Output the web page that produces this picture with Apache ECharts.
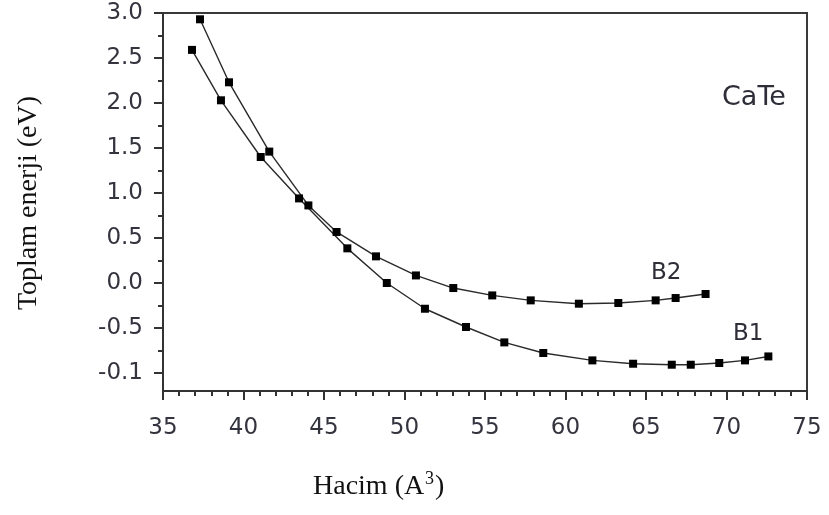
<!DOCTYPE html>
<html>
<head>
<meta charset="utf-8">
<script src="https://cdn.jsdelivr.net/npm/echarts@6/dist/echarts.min.js"></script>
<style>
html,body{margin:0;padding:0;background:#fff;}
#chart{width:829px;height:515px;}
</style>
</head>
<body>
<div id="chart"></div>
<script>
// Data
var b1X = [36.8, 38.6, 41.07, 43.45, 46.45, 48.9, 51.27, 53.82, 56.2, 58.62, 61.67, 64.2, 66.6, 67.78, 69.55, 71.15, 72.6];
var b1Y = [2.59, 2.03, 1.40, 0.94, 0.385, 0.0, -0.286, -0.489, -0.66, -0.778, -0.86, -0.897, -0.908, -0.908, -0.889, -0.86, -0.816];
var b2X = [37.3, 39.1, 41.6, 44.03, 45.78, 48.23, 50.71, 53.03, 55.45, 57.84, 60.83, 63.28, 65.6, 66.84, 68.7];
var b2Y = [2.93, 2.23, 1.46, 0.862, 0.567, 0.296, 0.084, -0.056, -0.138, -0.193, -0.23, -0.222, -0.193, -0.167, -0.122];
var yTickValues = [-1.0, -0.5, 0.0, 0.5, 1.0, 1.5, 2.0, 2.5, 3.0];
var yTickLabels = ['-0.1', '-0.5', '0.0', '0.5', '1.0', '1.5', '2.0', '2.5', '3.0'];
var yMinorValues = [-0.75, -0.25, 0.25, 0.75, 1.25, 1.75, 2.25, 2.75];
var xTitleMain = 'Hacim (A';
var xTitleSup = '3';
var xTitleEnd = ')';
var yTitle = 'Toplam enerji (eV)';
var compound = 'CaTe';
var seriesNames = ['B1', 'B2'];

function pairs(xs, ys) { return xs.map(function (x, i) { return [x, ys[i]]; }); }

var chart = echarts.init(document.getElementById('chart'), null, {renderer: 'canvas'});
var axisColor = '#333';
var labelFont = '"DejaVu Sans", sans-serif';
var serif = '"Liberation Serif", "Times New Roman", serif';

var option = {
  animation: false,
  backgroundColor: '#fff',
  grid: {left: 163, right: 22, top: 13, bottom: 124, show: true, borderColor: '#3a3a3a', borderWidth: 2, backgroundColor: 'transparent'},
  xAxis: {
    type: 'value', min: 35, max: 75, interval: 5,
    axisLine: {show: true, onZero: false, lineStyle: {color: axisColor, width: 2}},
    axisTick: {show: true, inside: false, length: 9, lineStyle: {color: axisColor, width: 2}},
    minorTick: {show: true, splitNumber: 5, length: 5, lineStyle: {color: axisColor, width: 2}},
    splitLine: {show: false},
    axisLabel: {margin: 26, fontSize: 23, fontFamily: labelFont, color: '#34343f'}
  },
  yAxis: [{
    type: 'value', min: -1.2, max: 3.0,
    axisLine: {show: true, onZero: false, lineStyle: {color: axisColor, width: 2}},
    axisTick: {show: true, inside: false, length: 9, customValues: yTickValues, lineStyle: {color: axisColor, width: 2}},
    splitLine: {show: false},
    axisLabel: {
      margin: 20, fontSize: 23, fontFamily: labelFont, color: '#34343f',
      customValues: yTickValues,
      formatter: function (v) {
        for (var i = 0; i < yTickValues.length; i++) {
          if (Math.abs(yTickValues[i] - v) < 1e-6) return yTickLabels[i];
        }
        return '';
      }
    }
  }, {
    type: 'value', min: -1.2, max: 3.0, position: 'left',
    axisLine: {show: false, onZero: false},
    axisTick: {show: true, inside: false, length: 5, customValues: yMinorValues, lineStyle: {color: axisColor, width: 2}},
    axisLabel: {show: false},
    splitLine: {show: false}
  }],
  series: [{
    name: seriesNames[0], type: 'line', data: pairs(b1X, b1Y), yAxisIndex: 0,
    symbol: 'rect', symbolSize: 8,
    lineStyle: {color: '#2a2a2a', width: 1.4},
    itemStyle: {color: '#000'}
  }, {
    name: seriesNames[1], type: 'line', data: pairs(b2X, b2Y), yAxisIndex: 0,
    symbol: 'rect', symbolSize: 8,
    lineStyle: {color: '#2a2a2a', width: 1.4},
    itemStyle: {color: '#000'}
  }],
  graphic: [
    {type: 'text', x: 722, y: 98, style: {text: compound, font: '27px "DejaVu Sans"', fill: '#2e2e38', align: 'left', verticalAlign: 'middle'}},
    {type: 'text', x: 651, y: 273, style: {text: seriesNames[1], font: '23px "DejaVu Sans"', fill: '#2e2e38', align: 'left', verticalAlign: 'middle'}},
    {type: 'text', x: 733, y: 334, style: {text: seriesNames[0], font: '23px "DejaVu Sans"', fill: '#2e2e38', align: 'left', verticalAlign: 'middle'}},
    {type: 'text', x: 313, y: 487, style: {text: xTitleMain, font: '28px "Liberation Serif"', fill: '#111', align: 'left', verticalAlign: 'middle'}},
    {type: 'text', x: 425, y: 479, style: {text: xTitleSup, font: '18px "Liberation Serif"', fill: '#111', align: 'left', verticalAlign: 'middle'}},
    {type: 'text', x: 435, y: 487, style: {text: xTitleEnd, font: '28px "Liberation Serif"', fill: '#111', align: 'left', verticalAlign: 'middle'}},
    {type: 'text', x: 29, y: 203, rotation: Math.PI / 2, style: {text: yTitle, fontSize: 28, fontFamily: serif, fill: '#111', align: 'center', verticalAlign: 'middle'}}
  ]
};
chart.setOption(option);
</script>
</body>
</html>
